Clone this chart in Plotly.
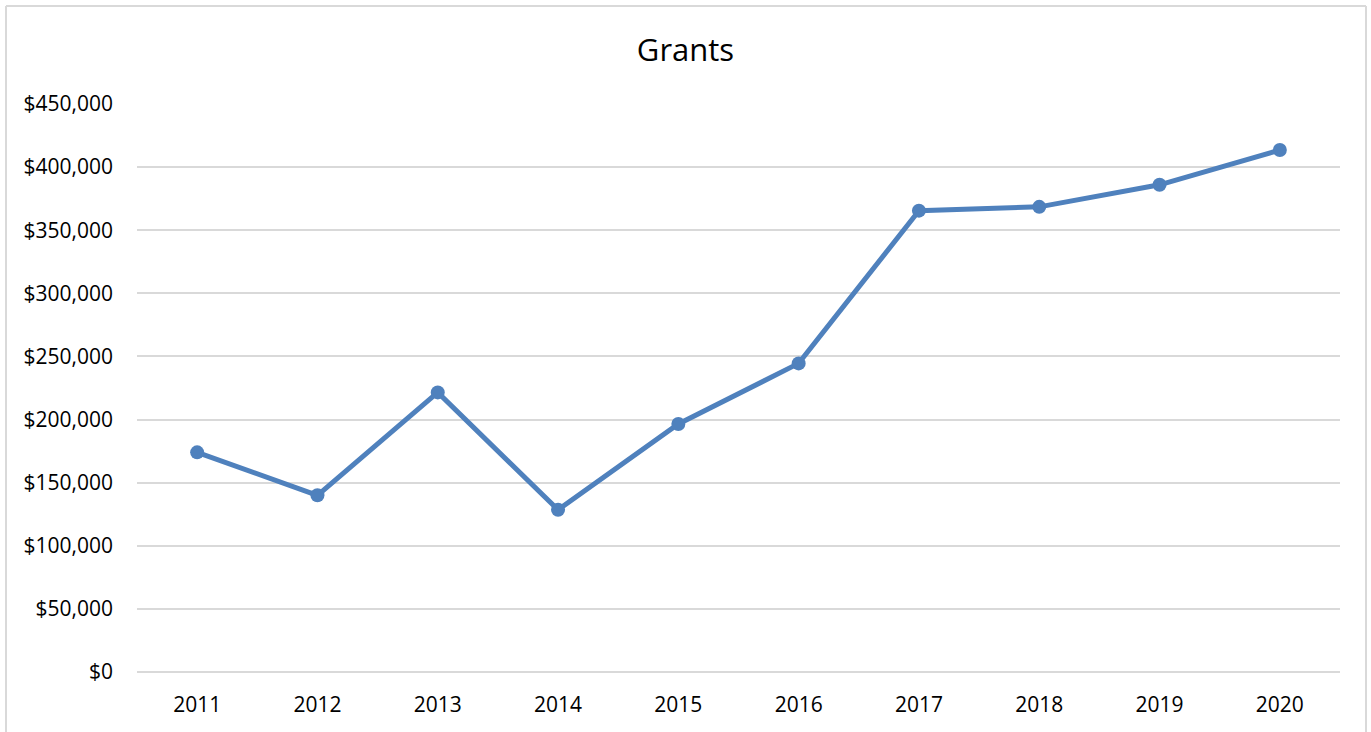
import plotly.graph_objects as go

years = ["2011", "2012", "2013", "2014", "2015", "2016", "2017", "2018", "2019", "2020"]
grants = [174000, 140000, 221500, 128500, 196500, 244500, 365500, 368500, 386000, 413500]
y_ticks = [0, 50000, 100000, 150000, 200000, 250000, 300000, 350000, 400000, 450000]
y_labels = ["$0", "$50,000", "$100,000", "$150,000", "$200,000", "$250,000",
            "$300,000", "$350,000", "$400,000", "$450,000"]

W, H = 1371, 732
L, R, T, B = 137, 31, 104, 60
FONT = "Open Sans"

fig = go.Figure()
fig.add_trace(go.Scatter(
    x=years, y=grants, mode="lines+markers",
    line=dict(color="#4f81bd", width=5),
    marker=dict(color="#4f81bd", size=14),
    hoverinfo="x+y",
))

pw = W - L - R
ph = H - T - B
def px(xp):
    return (xp - L) / pw
def py(yp):
    return (H - B - yp) / ph

border = dict(type="line", xref="paper", yref="paper",
              line=dict(color="#d9d9d9", width=2))
fig.add_shape(**border, x0=px(6), x1=px(6), y0=py(6), y1=py(740))
fig.add_shape(**border, x0=px(6), x1=px(1366), y0=py(6), y1=py(6))
fig.add_shape(**border, x0=px(1366), x1=px(1366), y0=py(6), y1=py(740))

fig.update_layout(
    width=W, height=H,
    margin=dict(l=L, r=R, t=T, b=B),
    paper_bgcolor="white", plot_bgcolor="white",
    showlegend=False,
    title=dict(text="Grants", x=0.5, xref="container", xanchor="center",
               y=1 - 50 / H, yref="container", yanchor="middle",
               font=dict(family=FONT, size=31, color="#000000")),
    font=dict(family=FONT, size=21, color="#000000"),
    xaxis=dict(type="category", showgrid=False, zeroline=False, showline=False,
               ticks="", tickfont=dict(family=FONT, size=21, color="#000000"),
               ticklabelstandoff=18,
               range=[-0.5, len(years) - 0.5], fixedrange=True),
    yaxis=dict(range=[0, 450000], tickvals=y_ticks, ticktext=y_labels,
               showgrid=True, gridcolor="#d9d9d9", gridwidth=1.5,
               zeroline=True, zerolinecolor="#d9d9d9", zerolinewidth=1.5,
               showline=False, ticks="",
               tickfont=dict(family=FONT, size=21, color="#000000"),
               ticklabelstandoff=23, fixedrange=True),
)

fig.write_html("out.html", config={"displayModeBar": False},
               post_script="document.body.style.margin='0';")
